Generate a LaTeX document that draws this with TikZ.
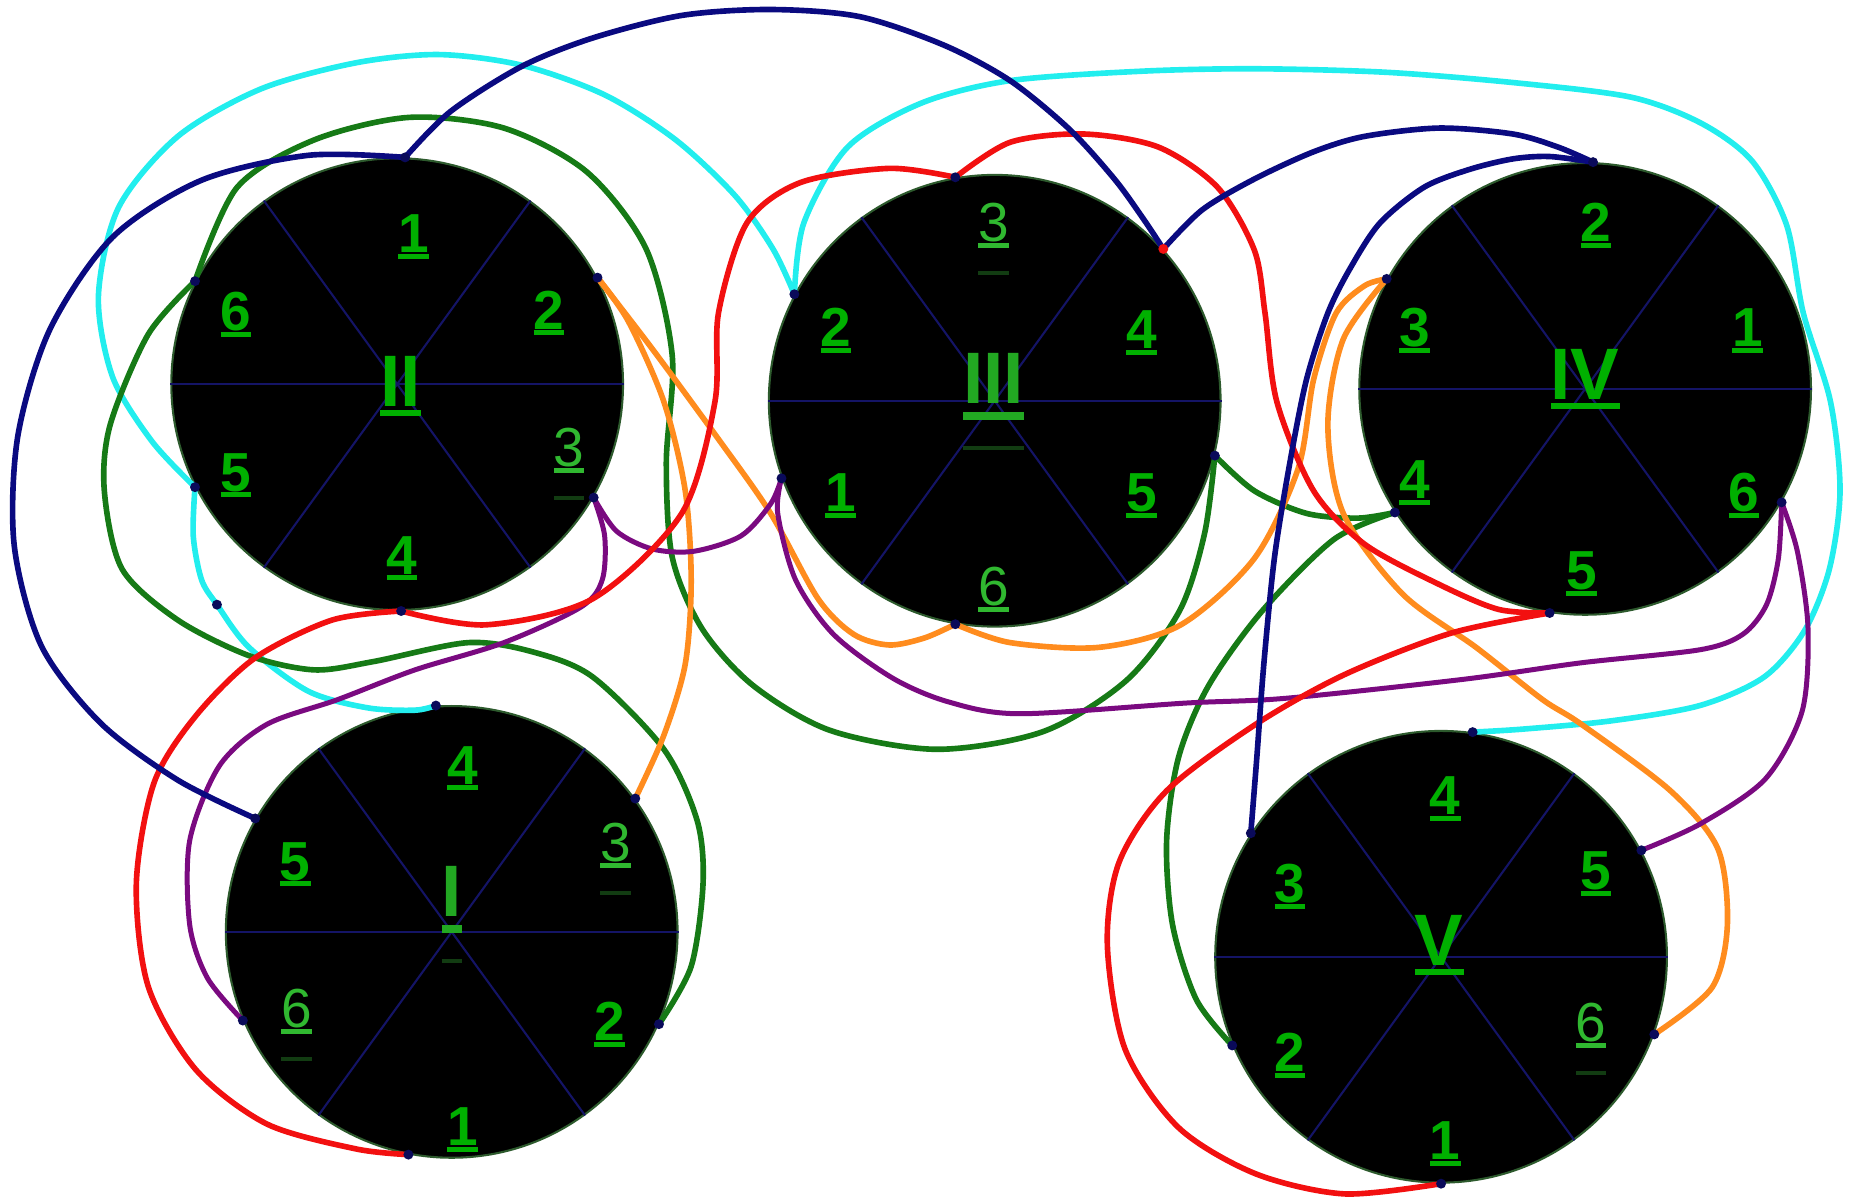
\documentclass[tikz,border=0pt]{standalone}
\usepackage{fontspec}
\setmainfont{Liberation Sans}
\definecolor{labg}{HTML}{00B000}
\definecolor{labf}{HTML}{30B830}
\definecolor{labc}{HTML}{22A822}
\definecolor{ghost}{HTML}{123C12}
\definecolor{rimc}{HTML}{2D5A2D}
\definecolor{spokec}{HTML}{141466}
\definecolor{dotc}{HTML}{0A0A5A}
\definecolor{cyanc}{HTML}{22EEEE}
\definecolor{navyc}{HTML}{0A0A80}
\definecolor{redc}{HTML}{F21010}
\definecolor{greenc}{HTML}{167A16}
\definecolor{orangec}{HTML}{FF8C1E}
\definecolor{purplec}{HTML}{7A0A80}
\newcommand\ulD[1]{\setbox0\hbox{#1}\rlap{\rule[-1.5pt]{\wd0}{1.2pt}}\box0}
\newcommand\ulF[1]{\setbox0\hbox{#1}\rlap{\rule[-1.5pt]{\wd0}{1.2pt}}\rlap{\smash{\color{ghost}\rule[-8pt]{\wd0}{0.85pt}}}\box0}
\newcommand\ulFn[1]{\setbox0\hbox{#1}\rlap{\rule[-1.5pt]{\wd0}{1.2pt}}\box0}
\newcommand\ulC[1]{\setbox0\hbox{#1}\rlap{\rule[-2.3pt]{\wd0}{1.5pt}}\box0}
\newcommand\ulCF[1]{\setbox0\hbox{#1}\rlap{\rule[-4pt]{\wd0}{2pt}}\rlap{\smash{\color{ghost}\rule[-11.2pt]{\wd0}{1pt}}}\box0}
\begin{document}
\begin{tikzpicture}[x=0.1mm,y=-0.1mm,
  wheel/.style={circle, fill=black, draw=rimc, line width=0.5pt, minimum size=38.1mm, inner sep=0pt},
  spoke/.style={draw=spokec, line width=0.5pt},
  dig/.style={text=labg, font=\fontsize{13.2}{14}\selectfont\bfseries, inner sep=0pt},
  digf/.style={text=labf, font=\fontsize{13.2}{14}\selectfont, inner sep=0pt},
  cen/.style={text=labg, font=\fontsize{17.5}{19}\selectfont\bfseries, inner sep=0pt},
  cenf/.style={text=labc, font=\fontsize{17.5}{19}\selectfont\bfseries, inner sep=0pt},
  wire/.style={line width=1.35pt, line cap=round, line join=round},
  rw/.style={wire, draw=redc},
  nw/.style={wire, draw=navyc},
  gw/.style={wire, draw=greenc},
  ow/.style={wire, draw=orangec},
  pw/.style={wire, draw=purplec, line width=1.2pt},
  cw/.style={wire, draw=cyanc},
  pdot/.style={fill=dotc},
]
\useasboundingbox (0,0) rectangle (1568,1014);

% wheels
\node[wheel] (I) at (381,786) {};
\node[wheel] (II) at (335,324) {};
\node[wheel] (III) at (839,338) {};
\node[wheel] (IV) at (1337,328) {};
\node[wheel] (V) at (1215.5,807) {};
\foreach \w in {I,II,III,IV,V}{
  \draw[spoke] (\w.0) -- (\w.180);
  \draw[spoke] (\w.54) -- (\w.234);
  \draw[spoke] (\w.126) -- (\w.306);
}

% ports
\coordinate (I-1) at (I.-101.5);
\coordinate (I-2) at (I.-24);
\coordinate (I-3) at (I.36);
\coordinate (I-4) at (I.94);
\coordinate (I-5) at (I.150);
\coordinate (I-6) at (I.203);
\coordinate (II-1) at (II.88.5);
\coordinate (II-2) at (II.28);
\coordinate (II-3) at (II.-30.5);
\coordinate (II-4) at (II.-89);
\coordinate (II-5) at (II.207);
\coordinate (II-6) at (II.153);
\coordinate (III-1) at (III.200.5);
\coordinate (III-2) at (III.152);
\coordinate (III-3) at (III.100);
\coordinate (III-4) at (III.42);
\coordinate (III-5) at (III.-14);
\coordinate (III-6) at (III.-100);
\coordinate (IV-2) at (IV.88);
\coordinate (IV-3) at (IV.151);
\coordinate (IV-4) at (IV.213);
\coordinate (IV-5) at (IV.-99);
\coordinate (IV-6) at (IV.-30.6);
\coordinate (V-1) at (V.-90.5);
\coordinate (V-2) at (V.203);
\coordinate (V-3) at (V.147);
\coordinate (V-4) at (V.82.7);
\coordinate (V-5) at (V.28);
\coordinate (V-6) at (V.-20.6);
\coordinate (cdot) at (183,510);

% labels
\node[cen] (lII) at (338,326) {\ulC{II}};
\node[dig] at (349,200) {\ulD{1}};
\node[dig] at (463,264) {\ulD{2}};
\node[digf] at (480,380) {\ulF{3}};
\node[dig] at (339,471) {\ulD{4}};
\node[dig] at (199,401) {\ulD{5}};
\node[dig] at (199,265) {\ulD{6}};

\node[cenf] (lIII) at (838,326) {\ulCF{III}};
\node[dig] at (709,418) {\ulD{1}};
\node[dig] at (705,279) {\ulD{2}};
\node[digf] at (838,190) {\ulF{3}};
\node[dig] at (963,281) {\ulD{4}};
\node[dig] at (963,418) {\ulD{5}};
\node[digf] at (838,497) {\ulFn{6}};

\node[cen] (lIV) at (1337,320) {\ulC{IV}};
\node[dig] at (1474,279) {\ulD{1}};
\node[dig] at (1346,190) {\ulD{2}};
\node[dig] at (1193,279) {\ulD{3}};
\node[dig] at (1193,407) {\ulD{4}};
\node[dig] at (1334,484) {\ulD{5}};
\node[dig] at (1471,418) {\ulD{6}};

\node[cenf] (lI) at (381,759) {\ulCF{I}};
\node[dig] at (390,953) {\ulD{1}};
\node[dig] at (514,864) {\ulD{2}};
\node[digf] at (519,713) {\ulF{3}};
\node[dig] at (390,648) {\ulD{4}};
\node[dig] at (249,729) {\ulD{5}};
\node[digf] at (250,853) {\ulF{6}};

\node[cen] (lV) at (1214,797) {\ulC{V}};
\node[dig] at (1219,965) {\ulD{1}};
\node[dig] at (1088,890) {\ulD{2}};
\node[dig] at (1088,748) {\ulD{3}};
\node[dig] at (1219,674) {\ulD{4}};
\node[dig] at (1346,737) {\ulD{5}};
\node[digf] at (1342,865) {\ulF{6}};

% cyan
\draw[cw] plot[smooth] coordinates {(II-5) (128,372) (95,318) (83,250) (100,175) (150,115) (220,75) (300,53) (370,46) (440,55) (510,80) (570,118) (620,165) (652,210) (III-2)};
\draw[cw] plot[smooth] coordinates {(II-5) (163,452) (170,489) (cdot) (210,546) (260,583) (310,597) (350,599) (I-4)};
\draw[cw] plot[smooth] coordinates {(III-2) (678,188) (715,124) (777,87) (852,68) (964,60) (1060,58) (1170,61) (1280,70) (1376,82) (1435,104) (1478,136) (1507,190) (1521,264) (1544,339) (1552,414) (1543,480) (1522,532) (1488,571) (1434,595) (1359,608) (1284,615) (V-4)};

% green
\draw[gw] plot[smooth] coordinates {(II-6) (200,158) (265,118) (345,99) (425,108) (495,145) (545,210) (567,300) (562,390) (567,470) (592,530) (635,578) (700,616) (790,632) (880,617) (950,574) (995,515) (1016,450) (III-5)};
\draw[gw] plot[smooth] coordinates {(III-5) (1058,414) (1102,433) (1145,437) (IV-4)};
\draw[gw] plot[smooth] coordinates {(IV-4) (1125,455) (1064,516) (1019,579) (994,639) (984,709) (989,780) (1009,843) (V-2)};
\draw[gw] plot[smooth] coordinates {(II-6) (125,282) (93,358) (88,414) (103,480) (150,523) (210,553) (265,565) (315,558) (395,542) (450,550) (500,571) (560,632) (588,692) (593,745) (583,815) (I-2)};

% orange
\draw[ow] plot[smooth] coordinates {(II-2) (530,271) (560,339) (578,414) (583,490) (578,560) (560,620) (I-3)};
\draw[ow] plot[smooth] coordinates {(II-2) (550,294) (605,369) (650,433) (690,505) (720,535) (750,544) (780,538) (III-6)};
\draw[ow] plot[smooth] coordinates {(III-6) (852,542) (927,546) (996,527) (1058,471) (1095,395) (1108,320) (1127,264) (1151,241) (IV-3)};
\draw[ow] plot[smooth] coordinates {(IV-3) (1133,286) (1120,358) (1133,433) (1183,501) (1245,546) (1301,590) (1334,611) (1409,667) (1449,716) (1457,780) (1444,833) (V-6)};

% purple
\draw[pw] plot[smooth] coordinates {(II-3) (520,448) (550,463) (585,465) (625,452) (650,425) (III-1)};
\draw[pw] plot[smooth] coordinates {(II-3) (510,452) (508,489) (490,512) (425,542) (350,565) (285,590) (225,611) (185,646) (160,709) (160,780) (175,825) (I-6)};
\draw[pw] plot[smooth] coordinates {(III-1) (656,433) (671,489) (703,535) (753,572) (800,592) (860,602) (1000,593) (1084,589) (1234,573) (1334,559) (1434,548) (1470,535) (1490,510) (1500,471) (IV-6)};
\draw[pw] plot[smooth] coordinates {(IV-6) (1516,465) (1525,530) (1520,600) (1489,657) (1434,695) (V-5)};

% red
\draw[rw] plot[smooth] coordinates {(II-4) (410,527) (500,505) (575,433) (603,339) (606,264) (630,188) (675,154) (750,142) (III-3)};
\draw[rw] plot[smooth] coordinates {(II-4) (280,523) (215,555) (165,604) (130,660) (115,745) (125,832) (165,902) (225,948) (300,969) (I-1)};
\draw[rw] plot[smooth] coordinates {(III-3) (852,120) (914,113) (977,124) (1027,158) (1058,211) (1067,264) (1077,339) (1108,414) (1151,459) (1214,493) (1264,514) (IV-5)};
\draw[rw] plot[smooth] coordinates {(IV-5) (1224,534) (1134,569) (1059,611) (984,667) (944,727) (934,797) (949,885) (994,951) (1059,990) (1134,1007) (V-1)};

% navy
\draw[nw] plot[smooth] coordinates {(II-1) (380,94) (440,56) (500,32) (575,13) (650,8) (725,14) (796,38) (852,68) (902,109) (940,151) (964,184) (III-4)};
\draw[nw] plot[smooth] coordinates {(II-1) (260,131) (170,152) (95,200) (42,278) (15,368) (12,460) (35,545) (85,610) (150,658) (I-5)};
\draw[nw] plot[smooth] coordinates {(III-4) (1014,177) (1058,151) (1108,128) (1151,115) (1214,108) (1276,113) (1314,124) (IV-2)};
\draw[nw] plot[smooth] coordinates {(IV-2) (1307,132) (1276,134) (1239,143) (1201,158) (1164,188) (1139,226) (1120,264) (1102,320) (1088,390) (1075,470) (1066,560) (1060,640) (V-3)};

% dots
\foreach \p in {I-1,I-2,I-3,I-4,I-5,I-6,II-1,II-2,II-3,II-4,II-5,II-6,III-1,III-2,III-3,III-5,III-6,IV-2,IV-3,IV-4,IV-5,IV-6,V-1,V-2,V-3,V-4,V-5,V-6,cdot}
  \fill[pdot] (\p) circle[radius=4.2];
\fill[redc] (III-4) circle[radius=4.2];
\end{tikzpicture}
\end{document}
